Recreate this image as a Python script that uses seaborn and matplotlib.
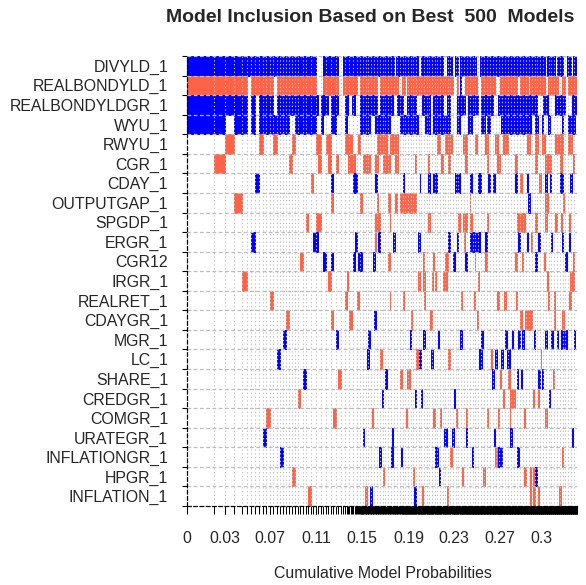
import numpy as np
import matplotlib
matplotlib.use("Agg")
import matplotlib.pyplot as plt
import seaborn as sns

# variables, top to bottom
variables = ["DIVYLD_1", "REALBONDYLD_1", "REALBONDYLDGR_1", "WYU_1", "RWYU_1",
             "CGR_1", "CDAY_1", "OUTPUTGAP_1", "SPGDP_1", "ERGR_1", "CGR12",
             "IRGR_1", "REALRET_1", "CDAYGR_1", "MGR_1", "LC_1", "SHARE_1",
             "CREDGR_1", "COMGR_1", "URATEGR_1", "INFLATIONGR_1", "HPGR_1",
             "INFLATION_1"]

# posterior model probabilities of the best 29 models
head_probs = [.0226, .0098, .0074, .0070, .0040, .0036, .0034, .0034, .0031, .0028,
              .0031, .0028, .0029, .0025, .0028, .0028, .0023, .0025, .0026, .0023,
              .0021, .0023, .0023, .0022, .0023, .0020, .0022, .0020, .0020]
# remaining 471 models, estimated per group (count, probability each)
tail_counts = [10, 10, 60, 120, 150, 121]
tail_probs = [.0021, .0011, .0006, .00045, .00036, .000338]

# x tick labels (cumulative probabilities) and where they sit
tick_pos = [0, .032, .070, .109, .148, .188, .226, .265, .300]
tick_labels = ["0", "0.03", "0.07", "0.11", "0.15", "0.19", "0.23", "0.27", "0.3"]

# inclusion spans on the cumulative probability axis: (from, to, sign)
spans = {
    "DIVYLD_1": [(0, .1100, 1), (.1142, .1277, 1), (.1311, .1607, 1), (.1620, .1751, 1), (.1768, .1844, 1),
                 (.1857, .1954, 1), (.1980, .2073, 1), (.2085, .2166, 1), (.2200, .2242, 1), (.2267, .2293, 1),
                 (.2310, .2365, 1), (.2381, .2449, 1), (.2479, .2872, 1), (.2889, .3029, 1), (.3046, .3113, 1),
                 (.3130, .3181, 1), (.3215, .3253, 1), (.3270, .3300, 1)],
    "REALBONDYLD_1": [(0, .0508, -1), (.0544, .0733, -1), (.0767, .1100, -1), (.1142, .1210, -1),
                      (.1224, .1277, -1), (.1311, .1436, -1), (.1464, .1605, -1), (.1633, .1788, -1),
                      (.1816, .1844, -1), (.1859, .1929, -1), (.1943, .2140, -1), (.2155, .2253, -1),
                      (.2282, .2295, -1), (.2305, .2314, 1), (.2352, .2451, -1), (.2493, .2606, -1),
                      (.2648, .2789, -1), (.2817, .2887, -1), (.2902, .3029, -1), (.3057, .3141, -1),
                      (.3170, .3198, -1), (.3226, .3300, -1)],
    "REALBONDYLDGR_1": [(0, .0502, 1), (.0550, .0581, 1), (.0615, .0733, 1), (.0770, .1111, 1),
                        (.1140, .1195, 1), (.1224, .1280, 1), (.1337, .1365, 1), (.1393, .1421, 1),
                        (.1464, .1605, 1), (.1633, .1745, 1), (.1774, .1830, 1), (.1859, .1943, 1),
                        (.1986, .2056, 1), (.2084, .2168, 1), (.2197, .2225, 1), (.2282, .2352, 1),
                        (.2380, .2464, 1), (.2493, .2591, 1), (.2634, .2958, 1), (.3014, .3057, 1),
                        (.3113, .3198, 1), (.3255, .3300, 1)],
    "WYU_1": [(0, .0319, 1), (.0398, .0516, 1), (.0550, .0581, 1), (.0615, .0869, 1), (.0911, .1080, 1),
              (.1125, .1153, 1), (.1210, .1252, 1), (.1337, .1351, 1), (.1464, .1548, 1), (.1590, .1647, 1),
              (.1661, .1717, 1), (.1802, .1859, 1), (.1872, .1957, 1), (.2013, .2056, 1), (.2084, .2225, 1),
              (.2282, .2310, 1), (.2380, .2409, 1), (.2493, .2521, 1), (.2535, .2563, 1), (.2662, .2916, 1),
              (.2944, .2972, 1), (.3001, .3014, 1), (.3057, .3071, 1), (.3170, .3183, 1), (.3226, .3282, 1)],
    "RWYU_1": [(.0319, .0389, -1), (.0615, .0649, -1), (.0733, .0770, -1), (.0880, .0905, -1),
               (.1083, .1125, -1), (.1167, .1210, -1), (.1337, .1393, -1), (.1449, .1464, -1),
               (.1605, .1647, -1), (.1661, .1689, -1), (.1717, .1788, -1), (.2112, .2140, -1),
               (.2183, .2239, -1), (.2337, .2366, -1), (.2436, .2451, -1), (.2521, .2549, -1),
               (.2606, .2634, -1), (.2676, .2718, -1), (.2874, .2902, -1), (.2944, .2972, -1),
               (.3001, .3029, -1), (.3113, .3184, -1), (.3226, .3255, -1)],
    "CGR_1": [(.0220, .0319, -1), (.0870, .0885, -1), (.1111, .1134, -1), (.1195, .1210, -1),
              (.1252, .1270, -1), (.1365, .1421, -1), (.1491, .1548, -1), (.1590, .1618, -1),
              (.1661, .1717, -1), (.1760, .1788, -1), (.1929, .1943, -1), (.2039, .2047, -1),
              (.2153, .2162, -1), (.2211, .2225, -1), (.2352, .2366, -1), (.2535, .2549, -1),
              (.2620, .2648, -1), (.2775, .2789, -1), (.2944, .2958, -1), (.3029, .3085, -1),
              (.3156, .3170, -1), (.3266, .3274, -1)],
    "CDAY_1": [(.0581, .0615, 1), (.1058, .1074, -1), (.1215, .1230, 1), (.1407, .1436, 1), (.1590, .1605, 1),
               (.1827, .1836, 1), (.1967, .1975, 1), (.2041, .2056, 1), (.2084, .2112, 1), (.2267, .2282, 1),
               (.2295, .2310, 1), (.2394, .2409, 1), (.2464, .2493, 1), (.2549, .2563, 1), (.2591, .2606, 1),
               (.2775, .2789, 1), (.2817, .2832, -1), (.2874, .2887, 1), (.2982, .2991, -1), (.3029, .3043, 1),
               (.3071, .3085, 1), (.3156, .3184, 1), (.3240, .3255, 1)],
    "OUTPUTGAP_1": [(.0398, .0465, -1), (.1224, .1238, -1), (.1464, .1478, -1), (.1605, .1618, -1),
                    (.1703, .1717, -1), (.1760, .1774, -1), (.1802, .1819, -1), (.1830, .1878, -1),
                    (.1887, .1943, -1), (.2390, .2398, -1), (.2887, .2902, 1), (.3029, .3057, -1),
                    (.3181, .3189, -1)],
    "SPGDP_1": [(.0996, .1030, -1), (.1097, .1140, -1), (.1590, .1633, -1), (.1713, .1722, -1),
                (.2041, .2056, -1), (.2295, .2310, -1), (.2337, .2366, -1), (.2394, .2409, -1),
                (.2535, .2549, -1), (.2789, .2860, -1), (.2944, .2958, -1), (.3029, .3043, -1),
                (.3113, .3128, -1), (.3166, .3174, -1), (.3236, .3244, -1)],
    "ERGR_1": [(.0550, .0581, 1), (.1074, .1111, 1), (.1421, .1436, 1), (.1586, .1595, -1), (.1618, .1633, 1),
               (.1745, .1760, 1), (.1957, .1971, 1), (.2211, .2225, 1), (.2282, .2295, 1), (.2348, .2356, -1),
               (.2394, .2420, 1), (.2428, .2453, 1), (.2462, .2479, 1), (.2521, .2535, 1), (.2803, .2817, 1),
               (.2874, .2887, 1), (.2912, .2920, -1), (.2972, .2986, 1), (.3081, .3089, 1), (.3170, .3184, 1),
               (.3236, .3244, 1)],
    "CGR12": [(.0956, .0979, -1), (.1159, .1176, 1), (.1224, .1238, 1), (.1407, .1421, 1), (.1449, .1478, 1),
              (.1576, .1590, 1), (.1703, .1717, -1), (.1995, .2003, -1), (.2079, .2088, -1), (.2183, .2211, -1),
              (.2253, .2267, 1), (.2352, .2366, 1), (.2432, .2441, -1), (.2521, .2535, -1), (.2775, .2789, -1),
              (.2832, .2845, -1), (.2944, .2958, 1), (.3024, .3033, -1), (.3198, .3212, 1), (.3266, .3274, -1)],
    "IRGR_1": [(.0465, .0497, -1), (.1195, .1210, -1), (.1351, .1365, -1), (.1957, .1971, -1),
               (.1999, .2013, -1), (.2070, .2084, -1), (.2094, .2102, -1), (.2168, .2197, -1),
               (.2460, .2469, -1), (.3043, .3057, -1), (.3240, .3255, -1), (.3266, .3274, -1)],
    "REALRET_1": [(.0705, .0730, -1), (.1331, .1356, -1), (.1436, .1455, -1), (.1713, .1722, -1),
                  (.1823, .1833, -1), (.2009, .2018, -1), (.2318, .2329, -1), (.2426, .2435, -1),
                  (.2625, .2640, -1), (.2684, .2696, -1), (.2783, .2794, -1), (.3052, .3061, -1),
                  (.3109, .3117, -1), (.3232, .3246, -1)],
    "CDAYGR_1": [(.0843, .0869, -1), (.1215, .1230, -1), (.1379, .1393, -1), (.1585, .1596, 1),
                 (.1891, .1899, -1), (.2056, .2070, -1), (.2451, .2464, -1), (.2817, .2832, -1),
                 (.2860, .2877, -1), (.2885, .2902, -1), (.2912, .2920, -1), (.3109, .3117, -1),
                 (.3175, .3189, -1)],
    "MGR_1": [(.0821, .0843, 1), (.1261, .1275, 1), (.1534, .1548, 1), (.1881, .1895, 1), (.1999, .2013, 1),
              (.2121, .2132, 1), (.2310, .2324, 1), (.2493, .2507, 1), (.2690, .2710, 1), (.2747, .2761, 1),
              (.2803, .2817, 1), (.2837, .2851, 1), (.2934, .2942, 1), (.3029, .3043, 1), (.3079, .3094, 1),
              (.3128, .3141, 1), (.3164, .3177, 1), (.3185, .3212, 1), (.3277, .3288, 1)],
    "LC_1": [(.0770, .0787, 1), (.1525, .1540, 1), (.1639, .1647, -1), (.1943, .1957, -1), (.1965, .1980, 1),
             (.2064, .2079, 1), (.2211, .2228, -1), (.2473, .2498, 1), (.2569, .2583, -1), (.2612, .2625, 1),
             (.2662, .2676, 1), (.2705, .2733, 1), (.2991, .2999, -1)],
    "SHARE_1": [(.0975, .0998, 1), (.1275, .1292, -1), (.1681, .1692, 1), (.1802, .1816, -1),
                (.1867, .1881, -1), (.2583, .2597, 1), (.2648, .2662, -1), (.2718, .2733, -1),
                (.2789, .2803, 1), (.2827, .2836, 1), (.2972, .2986, 1), (.3001, .3014, 1), (.3095, .3103, -1)],
    "CREDGR_1": [(.0931, .0956, -1), (.1647, .1661, 1), (.1929, .1943, 1), (.1980, .1991, 1),
                 (.2263, .2271, 1), (.2673, .2682, -1), (.2733, .2746, -1), (.2759, .2775, -1),
                 (.2926, .2934, -1), (.2968, .2976, -1), (.3067, .3075, 1)],
    "COMGR_1": [(.0679, .0705, -1), (.1246, .1261, -1), (.1563, .1576, -1), (.1853, .1867, -1),
                (.2084, .2098, -1), (.2146, .2155, -1), (.2277, .2286, -1), (.2362, .2370, -1),
                (.2535, .2549, -1), (.2635, .2644, -1), (.2728, .2737, -1), (.2855, .2864, -1),
                (.3029, .3043, -1)],
    "URATEGR_1": [(.0651, .0683, 1), (.1486, .1497, 1), (.1732, .1745, 1), (.2177, .2197, 1),
                  (.2244, .2259, 1), (.2362, .2370, 1), (.2600, .2612, 1), (.2738, .2752, 1),
                  (.3255, .3268, 1)],
    "INFLATIONGR_1": [(.0793, .0821, 1), (.1627, .1641, 1), (.1726, .1740, 1), (.1810, .1821, 1),
                      (.2098, .2121, 1), (.2229, .2238, -1), (.2409, .2422, 1), (.2606, .2620, -1),
                      (.2634, .2648, 1), (.2658, .2667, 1), (.2794, .2809, 1), (.3171, .3179, -1)],
    "HPGR_1": [(.0897, .0925, -1), (.1656, .1669, -1), (.1909, .1920, -1), (.2132, .2146, 1),
               (.2328, .2337, -1), (.2507, .2521, -1), (.2851, .2865, -1), (.2902, .2916, -1),
               (.2926, .2934, -1), (.2944, .2958, 1)],
    "INFLATION_1": [(.1030, .1058, -1), (.1506, .1520, -1), (.1548, .1563, 1), (.1923, .1935, 1),
                    (.1991, .2002, -1), (.2197, .2211, -1), (.2902, .2916, -1), (.2930, .2944, -1),
                    (.2968, .2976, -1), (.3151, .3160, -1)],
}

# model boundaries on the cumulative probability axis
model_probs = np.concatenate([head_probs, np.repeat(tail_probs, tail_counts)])
edges = np.concatenate([[0], np.cumsum(model_probs)])
centers = (edges[:-1] + edges[1:]) / 2

# inclusion matrix: +1 positive coef, -1 negative coef, 0 excluded
incl = np.zeros((len(variables), len(model_probs)))
for i, var in enumerate(variables):
    for lo, hi, sign in spans[var]:
        incl[i, (centers >= lo) & (centers < hi)] = sign

sns.set_style("white")
plt.rcParams['font.family'] = ['Liberation Sans', 'DejaVu Sans']

fig = plt.figure(figsize=(5.86, 5.85), dpi=100)
ax = fig.add_axes([187 / 586, 1 - 506 / 585, 390 / 586, 450 / 585])

colors = {1: "blue", -1: "tomato"}
for i in range(len(variables)):
    for sign, col in colors.items():
        runs = []
        j = 0
        while j < incl.shape[1]:
            if incl[i, j] == sign:
                k = j
                while k + 1 < incl.shape[1] and incl[i, k + 1] == sign:
                    k += 1
                runs.append((edges[j], edges[k + 1] - edges[j]))
                j = k + 1
            else:
                j += 1
        if runs:
            ax.broken_barh(runs, (i, 1), facecolors=col, edgecolors=col,
                           linewidth=0.7, zorder=1)

# grey grid: model boundaries (thinned where they crowd) and variable rows
grid_x = [edges[0]]
for e in edges[1:]:
    if e - grid_x[-1] >= 0.0022:
        grid_x.append(e)
ax.vlines(grid_x[1:], 0, len(variables), colors="#c4c4c4", linewidth=0.8,
          linestyles=(0, (1.2, 2.2)), zorder=2)
ax.hlines(np.arange(len(variables)), 0, edges[-1], colors="#bdbdbd", linewidth=0.9,
          linestyles=(0, (3, 2)), zorder=2)

ax.set_xlim(0, edges[-1])
ax.set_ylim(len(variables), 0)

ax.set_yticks(np.arange(len(variables)) + 0.5)
ax.set_yticklabels(variables, fontsize=11.4)
ax.set_yticks(np.arange(len(variables) + 1), minor=True)
ax.set_xticks(tick_pos)
ax.set_xticklabels(tick_labels, fontsize=11.4)
ax.set_xticks(edges, minor=True)

ax.tick_params(axis="y", which="major", length=0, pad=13.5, left=True)
ax.tick_params(axis="y", which="minor", length=3.6, width=0.8, color="black", left=True)
ax.tick_params(axis="x", which="both", length=6, width=0.75, color="black", bottom=True)
ax.tick_params(axis="x", which="major", pad=12)

sns.despine(ax=ax, top=True, right=True)
for side in ["left", "bottom"]:
    ax.spines[side].set_color("black")
    ax.spines[side].set_linewidth(0.9)
    ax.spines[side].set_linestyle((0, (3, 2)))
    ax.spines[side].set_zorder(3)

fig.text(370 / 586, 1 - 18 / 585, "Model Inclusion Based on Best  500  Models",
         ha="center", va="center", fontsize=14, fontweight="bold")
fig.text(383 / 586, 1 - 574 / 585, "Cumulative Model Probabilities",
         ha="center", va="center", fontsize=11.4)

fig.savefig("out.png", dpi=100)
